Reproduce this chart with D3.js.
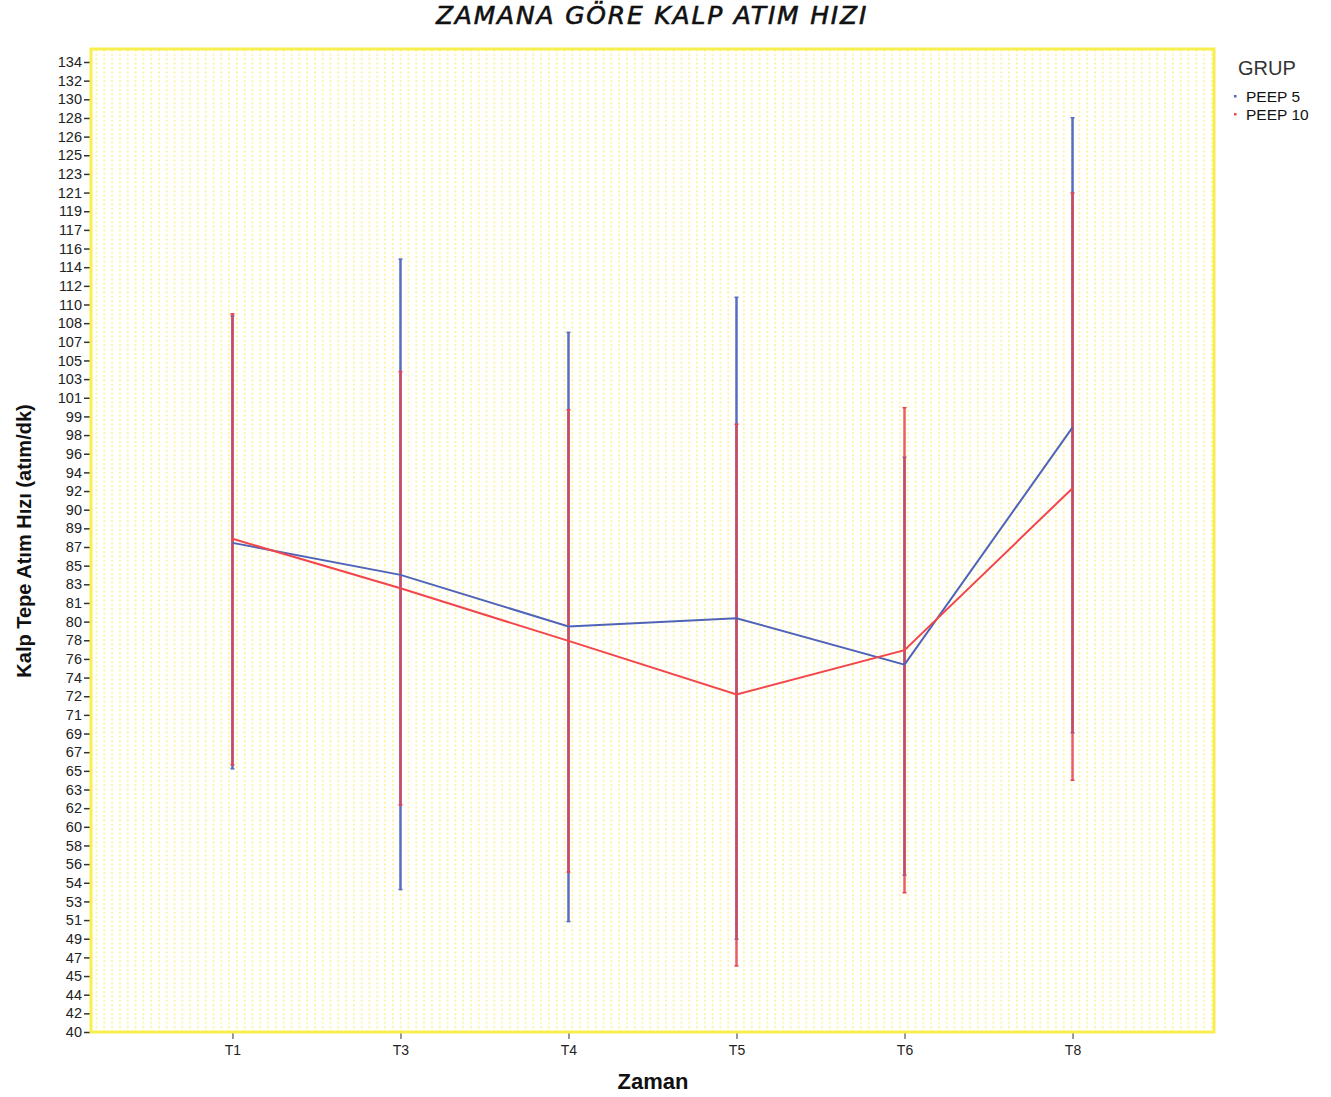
<!doctype html>
<html>
<head>
  <meta charset='utf-8'>
  <style>
    body { margin: 0; background: #fff; }
    .tick text { font-family: 'Liberation Sans', Arial, sans-serif; fill: #222; }
    .tick line { stroke: #333; }
  </style>
</head>
<body>
  <svg width='1331' height='1097'></svg>
  <script src='https://d3js.org/d3.v7.min.js'></script>
  <script>
    // data
    var times = ['T1', 'T3', 'T4', 'T5', 'T6', 'T8'];
    var groups = ['PEEP 5', 'PEEP 10'];

    var peep5Mean = [87.4, 84.3, 79.3, 80.1, 75.6, 98.6];
    var peep5Low  = [65.5, 53.8, 50.7, 49.0, 55.2, 69.0];
    var peep5High = [109.4, 114.9, 107.8, 111.2, 95.7, 128.6];

    var peep10Mean = [87.8, 83.0, 77.9, 72.7, 77.0, 92.7];
    var peep10Low  = [65.9, 62.0, 55.5, 46.4, 53.5, 64.4];
    var peep10High = [109.6, 104.0, 100.3, 98.9, 100.5, 121.3];

    var yTickLabels = [40, 42, 44, 45, 47, 49, 51, 53, 54, 56, 58, 60, 62, 63, 65,
      67, 69, 71, 72, 74, 76, 78, 80, 81, 83, 85, 87, 89, 90, 92, 94, 96, 98, 99,
      101, 103, 105, 107, 108, 110, 112, 114, 116, 117, 119, 121, 123, 125, 126,
      128, 130, 132, 134];

    var colors = ['#4f63b8', '#f2464c'];
    var barColors = ['#5a6cc0', '#e4424e'];

    var series = [
      { name: groups[0], mean: peep5Mean, low: peep5Low, high: peep5High },
      { name: groups[1], mean: peep10Mean, low: peep10Low, high: peep10High }
    ];

    var svg = d3.select('svg');
    var plotLeft = 91, plotRight = 1214, plotTop = 49, plotBottom = 1032;

    var x = d3.scalePoint().domain(times).range([plotLeft, plotRight]).padding(0.842);
    var y = d3.scaleLinear().domain([40, 134]).range([plotBottom, 62]);

    // dotted background
    var defs = svg.append('defs');
    var pat = defs.append('pattern')
      .attr('id', 'dots')
      .attr('patternUnits', 'userSpaceOnUse')
      .attr('width', 7.8).attr('height', 4.4);
    pat.append('rect').attr('x', 2).attr('y', 1)
      .attr('width', 1.8).attr('height', 2).attr('fill', '#fbf39a');

    svg.append('rect')
      .attr('x', plotLeft).attr('y', plotTop)
      .attr('width', plotRight - plotLeft).attr('height', plotBottom - plotTop)
      .attr('fill', 'url(#dots)');

    // title
    svg.append('text')
      .attr('x', 652).attr('y', 24)
      .attr('text-anchor', 'middle')
      .attr('font-family', "'DejaVu Sans', sans-serif")
      .attr('font-style', 'italic')
      .attr('font-size', 25)
      .attr('letter-spacing', 1.8)
      .attr('stroke', '#111')
      .attr('stroke-width', 0.6)
      .attr('fill', '#111')
      .text('ZAMANA GÖRE KALP ATIM HIZI');

    // axes
    var tickVals = yTickLabels.map(function(d, i) { return 40 + i * 94 / 52; });
    var yAxis = svg.append('g')
      .attr('transform', 'translate(' + (plotLeft - 1) + ',0)')
      .call(d3.axisLeft(y)
        .tickValues(tickVals)
        .tickSize(6)
        .tickPadding(2)
        .tickFormat(function(d, i) { return yTickLabels[i]; }));
    yAxis.select('.domain').remove();
    yAxis.selectAll('text').attr('font-size', 14.5);
    yAxis.selectAll('line').attr('stroke-width', 1.5);

    var xAxis = svg.append('g')
      .attr('transform', 'translate(0,' + (plotBottom + 1) + ')')
      .call(d3.axisBottom(x).tickSize(6).tickPadding(6));
    xAxis.select('.domain').remove();
    xAxis.selectAll('text')
      .attr('font-size', 14)
      .attr('font-family', "'Liberation Sans Narrow', 'Liberation Sans', sans-serif");

    // frame
    svg.append('rect')
      .attr('x', plotLeft).attr('y', plotTop)
      .attr('width', plotRight - plotLeft).attr('height', plotBottom - plotTop)
      .attr('fill', 'none')
      .attr('stroke', '#f8ef4e')
      .attr('stroke-width', 3);

    // error bars
    series.forEach(function(s, k) {
      var g = svg.append('g');
      g.selectAll('line.bar')
        .data(times)
        .enter().append('line')
        .attr('class', 'bar')
        .attr('x1', function(d) { return x(d); })
        .attr('x2', function(d) { return x(d); })
        .attr('y1', function(d, i) { return y(s.low[i]); })
        .attr('y2', function(d, i) { return y(s.high[i]); })
        .attr('stroke', barColors[k])
        .attr('stroke-opacity', k === 1 ? 0.85 : 1)
        .attr('stroke-width', 2.5);
      [s.low, s.high].forEach(function(arr) {
        g.selectAll(null)
          .data(times)
          .enter().append('line')
          .attr('x1', function(d) { return x(d) - 2; })
          .attr('x2', function(d) { return x(d) + 2; })
          .attr('y1', function(d, i) { return y(arr[i]); })
          .attr('y2', function(d, i) { return y(arr[i]); })
          .attr('stroke', barColors[k])
          .attr('stroke-width', 1.5);
      });
    });

    // mean lines
    var line = d3.line()
      .x(function(d) { return x(d.t); })
      .y(function(d) { return y(d.v); });

    series.forEach(function(s, k) {
      svg.append('path')
        .datum(times.map(function(t, i) { return { t: t, v: s.mean[i] }; }))
        .attr('d', line)
        .attr('fill', 'none')
        .attr('stroke', colors[k])
        .attr('stroke-width', 2);
    });

    // axis titles
    svg.append('text')
      .attr('transform', 'translate(31,541) rotate(-90)')
      .attr('text-anchor', 'middle')
      .attr('font-family', "'Liberation Sans Narrow', 'Liberation Sans', sans-serif")
      .attr('font-weight', 'bold')
      .attr('font-size', 20)
      .attr('fill', '#111')
      .text('Kalp Tepe Atım Hızı (atım/dk)');

    svg.append('text')
      .attr('x', 653).attr('y', 1089)
      .attr('text-anchor', 'middle')
      .attr('font-family', "'Liberation Sans', sans-serif")
      .attr('font-weight', 'bold')
      .attr('font-size', 22)
      .attr('fill', '#111')
      .text('Zaman');

    // legend
    var leg = svg.append('g').attr('transform', 'translate(1238,0)');
    leg.append('text')
      .attr('x', 0).attr('y', 75)
      .attr('font-family', "'Liberation Sans', sans-serif")
      .attr('font-size', 20)
      .attr('fill', '#333')
      .text('GRUP');
    var item = leg.selectAll('g.item')
      .data(groups)
      .enter().append('g')
      .attr('class', 'item')
      .attr('transform', function(d, i) { return 'translate(0,' + (97 + i * 18) + ')'; });
    item.append('rect')
      .attr('x', -4).attr('y', -2)
      .attr('width', 2.5).attr('height', 2.5)
      .attr('fill', function(d, i) { return colors[i]; });
    item.append('text')
      .attr('x', 8).attr('y', 5)
      .attr('font-family', "'Liberation Sans', sans-serif")
      .attr('font-size', 15.5)
      .attr('fill', '#111')
      .text(function(d) { return d; });
  </script>
</body>
</html>
